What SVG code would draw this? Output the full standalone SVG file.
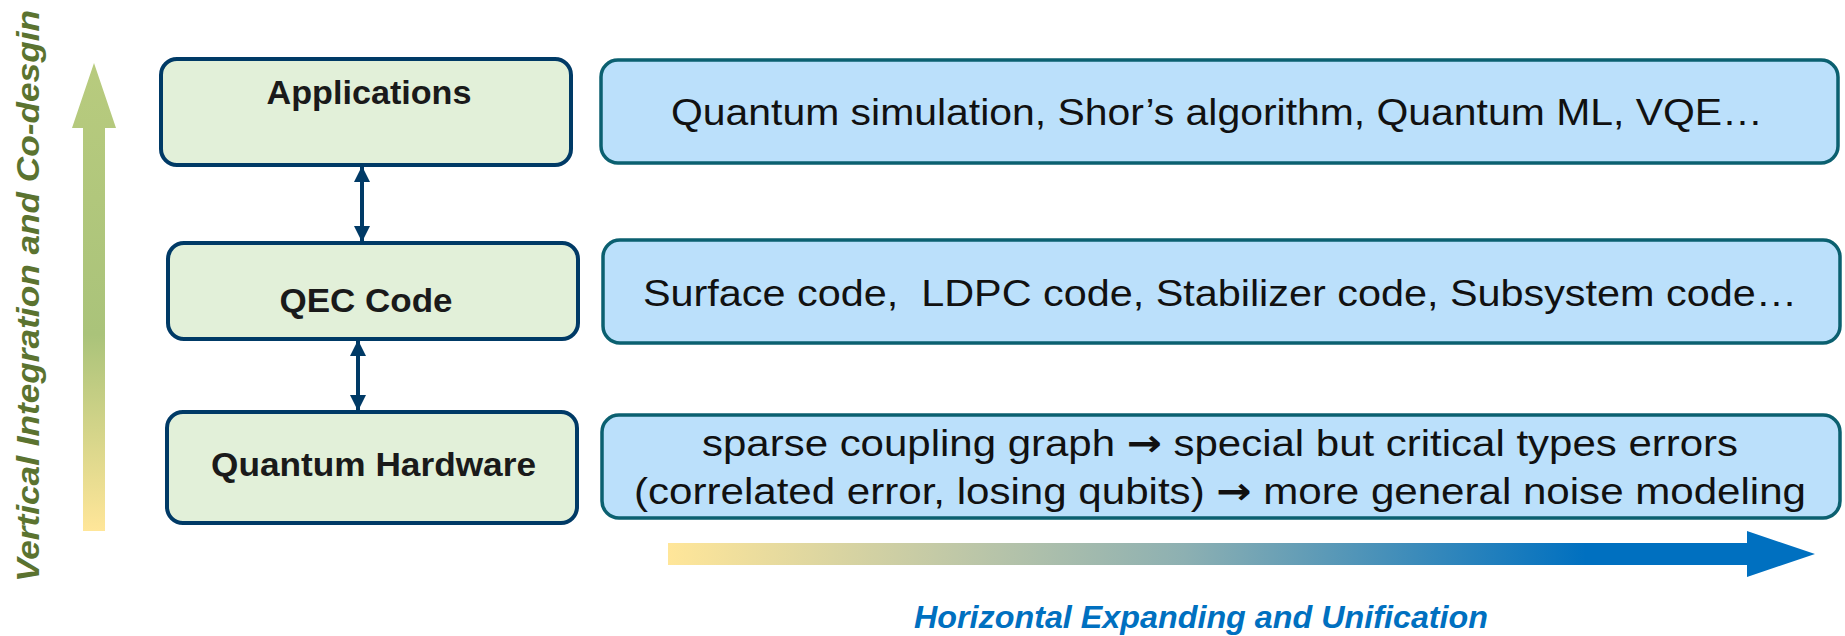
<svg xmlns="http://www.w3.org/2000/svg" width="1845" height="636" viewBox="0 0 1845 636">
  <defs>
    <linearGradient id="gV" x1="0" y1="1" x2="0" y2="0">
      <stop offset="0" stop-color="#FFE699"/>
      <stop offset="0.42" stop-color="#AAC37A"/>
      <stop offset="1" stop-color="#B8CB7E"/>
    </linearGradient>
    <linearGradient id="gH" x1="0" y1="0" x2="1" y2="0">
      <stop offset="0" stop-color="#FFE699"/>
      <stop offset="0.45" stop-color="#8DB0B2"/>
      <stop offset="0.8" stop-color="#0070C0"/>
      <stop offset="1" stop-color="#0070C0"/>
    </linearGradient>
    <marker id="ah" viewBox="0 0 16 16" refX="15" refY="8" markerWidth="16" markerHeight="16" markerUnits="userSpaceOnUse" orient="auto-start-reverse">
      <path d="M0,0 L16,8 L0,16 Z" fill="#003A66"/>
    </marker>
  </defs>
  <style>
    .layer rect { fill: #E2F0D9; stroke: #003A66; stroke-width: 4; }
    .desc rect { fill: #BBE0FB; stroke: #0B6070; stroke-width: 3.5; }
    .lt { font-family: "Liberation Sans", Arial, sans-serif; font-weight: bold; font-size: 33px; fill: #1A1A1A; text-anchor: middle; }
    .dt { font-family: "Liberation Sans", Arial, sans-serif; font-size: 37px; fill: #111111; text-anchor: middle; white-space: pre; }
    .ar { font-family: "DejaVu Sans", sans-serif; font-weight: bold; }
    .conn line { stroke: #003A66; stroke-width: 4; }
  </style>

  <g id="vertical-axis">
    <polygon points="94,63 116,128 105,128 105,531 83,531 83,128 72,128" fill="url(#gV)"/>
    <text transform="translate(39,296) rotate(-90)" x="0" y="0" text-anchor="middle" font-family="'Liberation Sans', Arial, sans-serif" font-weight="bold" font-style="italic" font-size="32" fill="#5B7330" textLength="572" lengthAdjust="spacingAndGlyphs">Vertical Integration and Co-desgin</text>
  </g>

  <g id="horizontal-axis">
    <polygon points="668,543 1747,543 1747,531 1815,554 1747,577 1747,565 668,565" fill="url(#gH)"/>
    <text x="1201" y="628" text-anchor="middle" font-family="'Liberation Sans', Arial, sans-serif" font-weight="bold" font-style="italic" font-size="32" fill="#0070C0" textLength="574" lengthAdjust="spacingAndGlyphs">Horizontal Expanding and Unification</text>
  </g>

  <g id="applications" class="layer">
    <rect x="161" y="59" width="410" height="106" rx="16"/>
    <text class="lt" x="369" y="104" textLength="205" lengthAdjust="spacingAndGlyphs">Applications</text>
  </g>
  <g id="qec-code" class="layer">
    <rect x="168" y="243" width="410" height="96" rx="16"/>
    <text class="lt" x="366" y="312" textLength="173" lengthAdjust="spacingAndGlyphs">QEC Code</text>
  </g>
  <g id="quantum-hardware" class="layer">
    <rect x="167" y="412" width="410" height="111" rx="16"/>
    <text class="lt" x="373.5" y="476" textLength="325" lengthAdjust="spacingAndGlyphs">Quantum Hardware</text>
  </g>

  <g id="applications-desc" class="desc">
    <rect x="601" y="60" width="1237" height="103" rx="17"/>
    <text class="dt" x="1217" y="125" textLength="1092" lengthAdjust="spacingAndGlyphs">Quantum simulation, Shor’s algorithm, Quantum ML, VQE…</text>
  </g>
  <g id="qec-desc" class="desc">
    <rect x="603" y="240" width="1237" height="103" rx="17"/>
    <text class="dt" x="1220" y="306" textLength="1154" lengthAdjust="spacingAndGlyphs" xml:space="preserve">Surface code,  LDPC code, Stabilizer code, Subsystem code…</text>
  </g>
  <g id="hardware-desc" class="desc">
    <rect x="602" y="415" width="1238" height="103" rx="17"/>
    <text class="dt" x="1220" y="456" textLength="1036" lengthAdjust="spacingAndGlyphs">sparse coupling graph <tspan class="ar">→</tspan> special but critical types errors</text>
    <text class="dt" x="1220" y="504" textLength="1172" lengthAdjust="spacingAndGlyphs">(correlated error, losing qubits) <tspan class="ar">→</tspan> more general noise modeling</text>
  </g>

  <g id="connectors" class="conn">
    <line x1="362" y1="167" x2="362" y2="241" marker-start="url(#ah)" marker-end="url(#ah)"/>
    <line x1="358" y1="341" x2="358" y2="410" marker-start="url(#ah)" marker-end="url(#ah)"/>
  </g>
</svg>
